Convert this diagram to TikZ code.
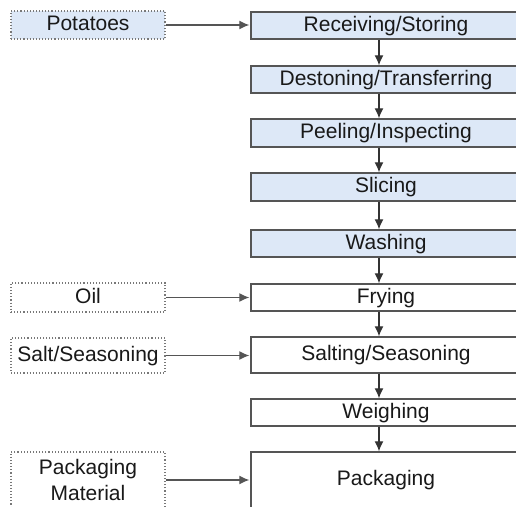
\documentclass[tikz,border=0pt]{standalone}
\usepackage{fontspec}
\setmainfont{Liberation Sans}
\usetikzlibrary{arrows.meta}
\definecolor{stepblue}{RGB}{221,232,247}
\definecolor{edgegray}{RGB}{85,85,85}
\definecolor{dotgray}{RGB}{120,120,120}
\definecolor{inktext}{RGB}{25,25,25}
\begin{document}
\begin{tikzpicture}[x=1pt,y=-1pt,
  every node/.style={font=\fontsize{21}{26}\selectfont, text=inktext, inner sep=0pt},
  stage/.style={draw=edgegray, line width=1.4pt, minimum width=270pt, text height=15pt, text depth=4pt},
  bluestage/.style={stage, fill=stepblue},
  supply/.style={draw=dotgray, line width=1.1pt, dotted, minimum width=154pt, fill=white, align=center},
  flow/.style={draw=black!80, line width=1.3pt, -{Latex[length=10pt,width=9pt]}},
  feed/.style={draw=edgegray, line width=1.3pt, -{Latex[length=10pt,width=9pt]}, shorten >=1pt}
]
\useasboundingbox (0,0) rectangle (516,506);
\begin{scope}
\clip (0,0) rectangle (516,506);

% process stages
\node[bluestage, minimum height=27pt] (recv)  at (386,25.5)  {Receiving/Storing};
\node[bluestage, minimum height=27pt] (dest)  at (386,79.5)  {Destoning/Transferring};
\node[bluestage, minimum height=28pt] (peel)  at (386,133)   {Peeling/Inspecting};
\node[bluestage, minimum height=28pt] (slice) at (386,187)   {Slicing};
\node[bluestage, minimum height=27pt] (wash)  at (386,243.5) {Washing};
\node[stage, minimum height=27pt, fill=white] (fry)  at (386,297.5) {Frying};
\node[stage, minimum height=36pt, fill=white] (salt) at (386,355)   {Salting/Seasoning};
\node[stage, minimum height=27pt, fill=white] (weigh) at (386,412.5) {Weighing};
\node[stage, minimum height=56pt, fill=white] (pack) at (386,480)   {Packaging};

% incoming materials
\node[supply, minimum height=28pt, fill=stepblue, text height=15pt, text depth=4pt] (pot) at (88,25)  {Potatoes};
\node[supply, minimum height=29pt, text height=15pt, text depth=4pt] (oil)  at (88,297.5) {Oil};
\node[supply, minimum height=35pt, text height=15pt, text depth=4pt] (salts) at (88,355.5) {Salt/Seasoning};
\node[supply, minimum height=56pt] (pmat) at (88,480) {Packaging\\Material};

% main flow
\foreach \a/\b in {recv/dest, dest/peel, peel/slice, slice/wash, wash/fry,
                   fry/salt, salt/weigh, weigh/pack}
  \draw[flow] ([xshift=-7pt]\a.south) -- ([xshift=-7pt]\b.north);

% material inputs
\draw[feed] (pot.east)   -- (pot.east -| recv.west);
\draw[feed] (oil.east)   -- (oil.east -| fry.west);
\draw[feed] (salts.east) -- (salts.east -| salt.west);
\draw[feed] (pmat.east)  -- (pmat.east -| pack.west);
\end{scope}
\end{tikzpicture}
\end{document}
